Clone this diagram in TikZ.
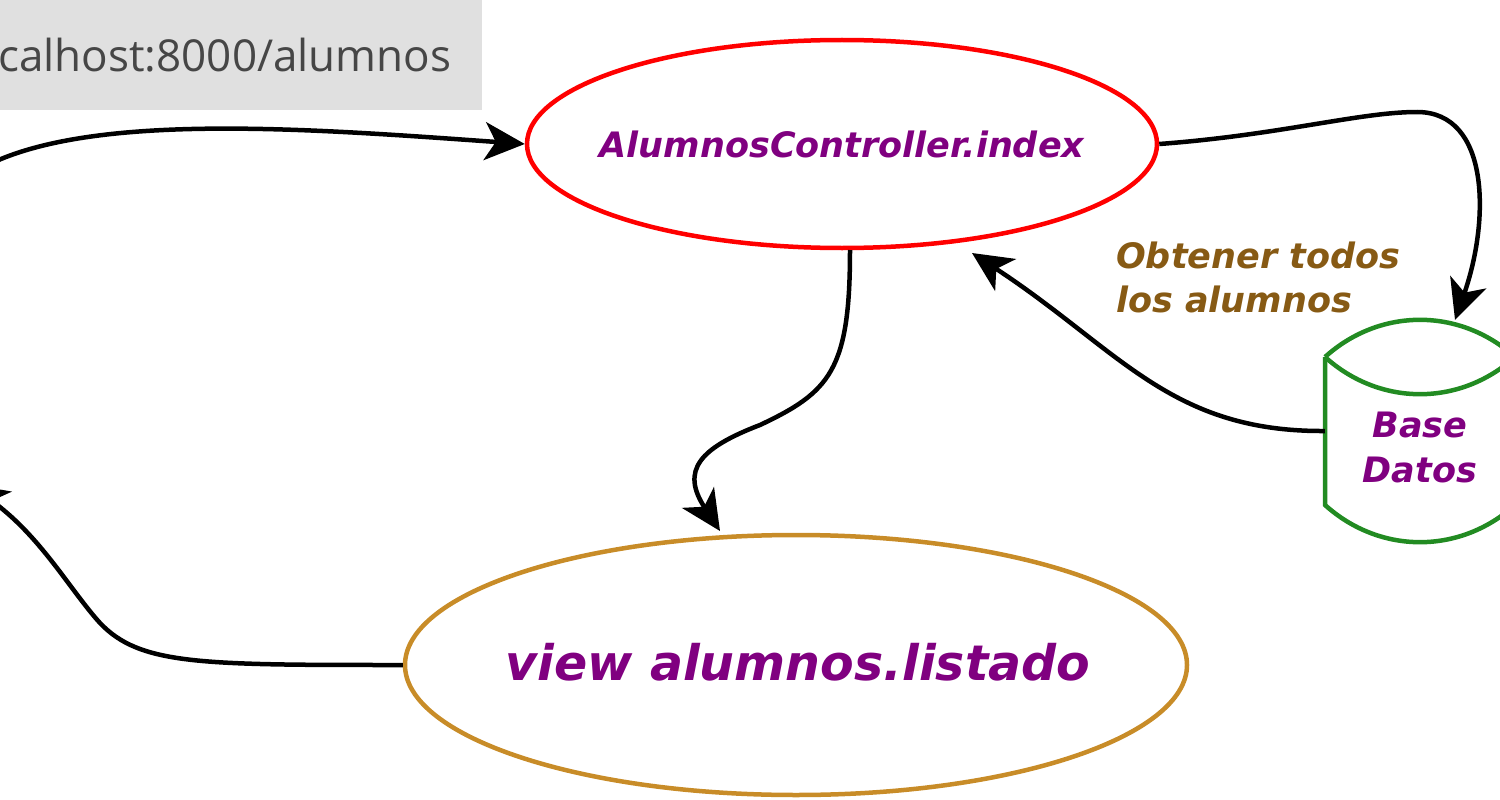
\documentclass[tikz,border=0pt]{standalone}
\usepackage{fontspec}
\usetikzlibrary{shapes.geometric,arrows.meta}
\newfontfamily\lblfont{DejaVu Sans}
\newfontfamily\urlfont{Open Sans}
\definecolor{urlgray}{RGB}{224,224,224}
\definecolor{urltext}{RGB}{70,70,70}
\definecolor{lblpurple}{RGB}{128,0,128}
\definecolor{lblbrown}{RGB}{135,90,20}
\definecolor{viewgold}{RGB}{200,140,40}
\definecolor{dbgreen}{RGB}{34,139,34}
\begin{document}
\begin{tikzpicture}[x=1pt,y=-1pt,
  flow/.style={draw=black,line width=4.5pt,
    -{Stealth[length=40pt,width=38pt,inset=11pt]}},
  oval/.style={ellipse,line width=4.5pt,inner sep=0pt},
  lbl/.style={text=lblpurple,inner sep=0pt},
  dbline/.style={draw=dbgreen,line width=4.5pt,line join=miter}]
\useasboundingbox (0,0) rectangle (1500,800);
\clip (0,0) rectangle (1500,800);

% address bar
\fill[urlgray] (-5,-5) rectangle (482,110);
\node[anchor=base west,inner sep=0pt,text=urltext,
  font=\urlfont\fontsize{44}{50}\selectfont] (url) at (-2,72) {calhost:8000/alumnos};

% controller and view
\node[oval,draw=red,minimum width=630pt,minimum height=208pt] (ctrl) at (842,144) {};
\node[lbl,font=\lblfont\bfseries\itshape\fontsize{35}{42}\selectfont] (ctrltext) at (ctrl.center) {AlumnosController.index};
\node[oval,draw=viewgold,minimum width=782pt,minimum height=260pt] (view) at (796,665) {};
\node[lbl,font=\lblfont\bfseries\itshape\fontsize{49}{56}\selectfont] (viewtext) at (798,662) {view alumnos.listado};

% database cylinder
\node[minimum width=190pt,minimum height=222pt,inner sep=0pt] (db) at (1420,431) {};
\draw[dbline] (1325,357) to[bend left=42] (1515,357);
\draw[dbline] (1325,357) to[bend right=42] (1515,357);
\draw[dbline] (1325,357) -- (1325,505) to[bend right=42] (1515,505);
\node[lbl,align=center,
  font=\lblfont\bfseries\itshape\fontsize{35}{45}\selectfont] (dblabel) at (1420,447) {Base\\Datos};

% query label
\node[anchor=base west,align=left,text=lblbrown,inner sep=0pt,
  font=\lblfont\bfseries\itshape\fontsize{35}{44}\selectfont] (query) at (1116,312) {Obtener todos\\los alumnos};

% free ends
\coordinate (reqin) at (-30,175);
\coordinate (respout) at (-32,484);
\coordinate (dbtop) at (1455,320);
\coordinate (ctrlin) at (972,253);
\coordinate (ctrlout) at (850,250);
\coordinate (viewin) at (720,531);

% connectors
\draw[flow] (reqin) .. controls (70,110) and (300,128) .. (ctrl.west);
\draw[flow] (ctrl.east) .. controls (1280,135) and (1360,112) .. (1417,112)
  .. controls (1490,112) and (1490,220) .. (dbtop);
\draw[flow] (db.west) .. controls (1170,432) and (1120,350) .. (ctrlin);
\draw[flow] (ctrlout) .. controls (850,370) and (830,392) .. (760,425)
  .. controls (700,448) and (680,470) .. (viewin);
\draw[flow] (view.west) .. controls (200,665) and (140,665) .. (100,623)
  .. controls (70,590) and (40,535) .. (respout);
\end{tikzpicture}
\end{document}
